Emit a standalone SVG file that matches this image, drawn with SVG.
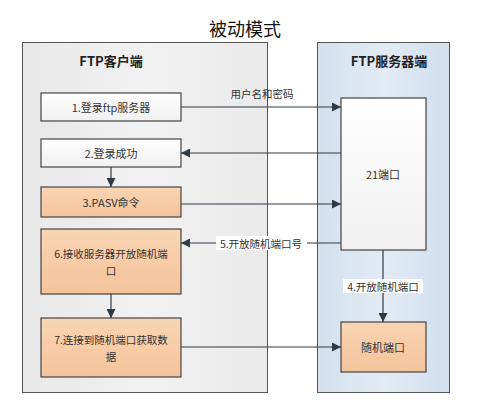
<svg xmlns="http://www.w3.org/2000/svg" width="493" height="414" viewBox="0 0 493 414">
<defs>
<linearGradient id="gGray" x1="0" y1="0" x2="1" y2="0"><stop offset="0" stop-color="#e8e8e8"/><stop offset="0.5" stop-color="#f2f2f2"/><stop offset="1" stop-color="#eaeaea"/></linearGradient>
<linearGradient id="gBlue" x1="0" y1="0" x2="1" y2="0"><stop offset="0" stop-color="#d3e1ee"/><stop offset="0.5" stop-color="#e2ebf4"/><stop offset="1" stop-color="#d0dfee"/></linearGradient>
<linearGradient id="gWhite" x1="0" y1="0" x2="0" y2="1"><stop offset="0" stop-color="#ffffff"/><stop offset="1" stop-color="#f0f0f0"/></linearGradient>
<linearGradient id="gOrange" x1="0" y1="0" x2="0" y2="1"><stop offset="0" stop-color="#f9d5b4"/><stop offset="1" stop-color="#f5c39a"/></linearGradient>
<marker id="arr" viewBox="0 0 10 10" refX="10" refY="5" markerWidth="9" markerHeight="9" markerUnits="userSpaceOnUse" orient="auto"><path d="M0,0 L10,5 L0,10 Z" fill="#2f3a45"/></marker>
<style>
text{font-family:"Noto Sans CJK SC","Liberation Sans",sans-serif;fill:#333;text-anchor:middle;dominant-baseline:central}
.cont{stroke:#555;stroke-width:1}
.box{stroke:#444;stroke-width:1.2}
.lbl{font-size:11px}
.lbl2{font-size:10.5px}
.hdr{font-size:13px;font-weight:bold;fill:#222}
.conn line{stroke:#2f3a45;stroke-width:1.2;marker-end:url(#arr)}
.tag{font-size:10.5px}
</style>
</defs>
<rect width="493" height="414" fill="#fff"/>
<text x="245" y="28" style="font-size:18px;fill:#111">被动模式</text>
<g id="client">
<rect class="cont" x="22.5" y="42.5" width="245" height="350" fill="url(#gGray)"/>
<text class="hdr" x="111" y="60">FTP客户端</text>
</g>
<g id="server">
<rect class="cont" x="317.5" y="42.5" width="132" height="350" fill="url(#gBlue)"/>
<text class="hdr" x="389" y="60">FTP服务器端</text>
</g>
<g id="n1"><rect class="box" x="41" y="93" width="140" height="28" fill="url(#gWhite)"/><text class="lbl" x="111" y="107">1.登录ftp服务器</text></g>
<g id="n2"><rect class="box" x="41" y="139" width="140" height="28" fill="url(#gWhite)"/><text class="lbl" x="111" y="153">2.登录成功</text></g>
<g id="n3"><rect class="box" x="41" y="187" width="140" height="30" fill="url(#gOrange)"/><text class="lbl" x="111" y="202">3.PASV命令</text></g>
<g id="n6"><rect class="box" x="41" y="229" width="140" height="65" fill="url(#gOrange)"/><text class="lbl2" x="111" y="253">6.接收服务器开放随机端</text><text class="lbl2" x="111" y="270">口</text></g>
<g id="n7"><rect class="box" x="41" y="318" width="140" height="59" fill="url(#gOrange)"/><text class="lbl2" x="111" y="339">7.连接到随机端口获取数</text><text class="lbl2" x="111" y="356">据</text></g>
<g id="p21"><rect class="box" x="341" y="98" width="85" height="152" fill="url(#gWhite)"/><text class="lbl" x="383" y="174">21端口</text></g>
<g id="prand"><rect class="box" x="341" y="322" width="85" height="50" fill="url(#gOrange)"/><text class="lbl" x="383" y="347">随机端口</text></g>
<g id="connectors" class="conn">
<line x1="181" y1="107" x2="341" y2="107"/>
<line x1="341" y1="153" x2="181" y2="153"/>
<line x1="111" y1="167" x2="111" y2="187"/>
<line x1="181" y1="204" x2="341" y2="204"/>
<line x1="341" y1="243" x2="181" y2="243"/>
<line x1="383" y1="250" x2="383" y2="322"/>
<line x1="111" y1="294" x2="111" y2="318"/>
<line x1="181" y1="347" x2="341" y2="347"/>
<text class="tag" x="262" y="93">用户名和密码</text>
<rect x="216" y="236" width="91" height="14" fill="#fff"/>
<text class="tag" x="261" y="243">5.开放随机端口号</text>
<rect x="343" y="279" width="80" height="14" fill="#fff"/>
<text class="tag" x="383" y="286">4.开放随机端口</text>
</g>
</svg>
